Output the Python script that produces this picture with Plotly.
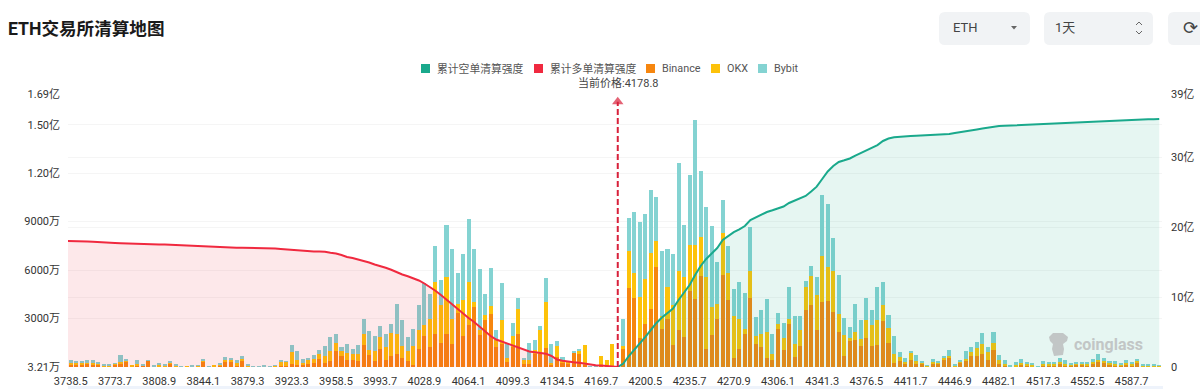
import plotly.graph_objects as go

# ---------- data (bars in 万, cumulative lines in 亿) ----------
tick_labels = ["3738.5","3773.7","3808.9","3844.1","3879.3","3923.3","3958.5","3993.7","4028.9","4064.1",
               "4099.3","4134.5","4169.7","4200.5","4235.7","4270.9","4306.1","4341.3","4376.5","4411.7",
               "4446.9","4482.1","4517.3","4552.5","4587.7"]
current_price = 4178.8

binance = [124,124,103,206,165,165,41,62,165,206,330,21,82,82,391,41,62,62,227,41,
           10,41,21,62,330,5,41,82,330,288,124,371,41,0,5,2,21,21,82,41,206,103,
           165,206,268,474,268,350,968,659,412,412,371,1380,721,371,1133,412,659,824,577,371,103,1112,1895,1236,2019,1483,2060,1401,3337,1936,2596,3708,1978,2925,3296,1236,1442,309,1236,2019,165,165,824,783,1195,144,618,268,206,906,824,103,10,5,103,41,41,
           0,
           1133,4903,4285,1772,2637,3564,6180,2348,2946,1339,2266,1833,4738,4182,5665,1092,1978,2946,5727,4120,
           577,1133,2019,4244,1401,1236,577,412,2348,1030,2678,618,1318,3502,3832,2266,4017,4079,3378,2142,
           659,1607,1648,1277,1772,1318,1360,2822,1483,247,350,
           165,433,247,227,62,165,206,412,618,62,288,412,680,700,783,433,1051,
           206,82,21,62,124,82,62,21,124,82,103,206,124,82,144,165,124,247,330,268,144,124,124,165,103,288,62,62,41,41]
okx = [144,124,144,41,82,82,41,41,41,124,82,62,124,41,21,21,62,62,62,62,
       5,21,21,21,62,21,41,62,103,124,103,124,41,62,5,2,21,82,227,288,700,350,
       82,206,247,350,412,618,536,330,474,412,453,639,309,597,700,824,1442,1195,700,618,1174,1154,721,1751,3234,2328,3543,1586,536,2225,2657,309,330,268,453,412,1442,227,680,1586,288,247,206,1483,2802,103,659,103,165,21,144,1277,5,5,556,371,1360,
       0,
       165,2266,1524,2554,2822,3523,1648,783,1998,2472,3708,3729,2822,3378,2410,4511,1730,927,2575,1730,
       2554,1854,350,1730,494,783,1586,412,330,742,288,824,948,1483,1792,2204,2884,2142,2596,1112,
       1298,185,494,474,1112,1257,1566,1030,948,577,268,
       124,453,103,62,41,124,82,124,62,41,62,103,247,474,639,494,453,
       247,124,41,62,124,82,82,21,62,103,62,82,82,82,82,82,82,82,124,103,82,82,41,82,103,82,21,41,41,62]
bybit = [144,144,144,206,206,41,103,103,41,433,103,0,227,21,21,21,144,41,41,62,
         2,0,82,21,62,21,0,103,165,144,206,185,82,2,2,62,21,21,144,2,453,556,
         227,165,206,206,597,886,556,247,556,309,556,948,1215,948,721,783,536,1895,1648,865,1051,1545,2616,1504,2266,1586,3214,4347,1957,2843,3935,3275,3770,1298,2390,618,2328,927,824,659,103,1071,618,247,1545,1195,330,247,0,21,124,0,2,2,0,0,0,
         0,
         1669,2060,3811,4635,4017,3852,2719,4058,2348,3214,6633,3255,4326,7725,4038,4305,5047,2657,2019,1627,
         1710,2266,2184,2719,1195,1483,2039,1236,659,968,2019,1689,865,371,639,1133,3729,3893,2039,2431,
         1092,659,1730,1133,1380,968,2019,1421,783,1071,309,
         288,103,371,82,10,185,82,144,350,103,41,453,309,350,659,309,680,
         288,247,10,165,227,165,62,21,185,144,124,288,247,103,41,82,82,165,371,185,124,144,82,206,124,124,62,82,62,10]

long_liq = [18.00,17.97,17.95,17.92,17.88,17.82,17.80,17.77,17.72,17.69,17.65,17.62,17.60,17.58,17.56,17.54,17.51,17.49,17.45,17.43,
            17.41,17.38,17.35,17.30,17.27,17.25,17.22,17.18,17.13,17.09,17.05,17.04,17.03,17.02,17.00,16.99,16.97,16.92,16.85,16.78,16.68,16.62,
            16.57,16.54,16.50,16.49,16.46,16.31,16.21,16.00,15.71,15.57,15.39,15.21,14.93,14.64,14.43,14.17,13.89,13.50,13.21,12.97,12.69,12.36,11.93,11.43,10.89,10.29,9.61,8.93,8.29,7.64,7.00,6.43,5.79,5.07,4.43,3.93,3.64,3.43,3.07,2.79,2.57,2.21,2.10,2.03,1.90,1.57,1.07,0.89,0.74,0.69,0.61,0.50,0.31,0.24,0.23,0.19,0.11,0.01]
short_liq = [0,0.50,1.57,2.43,3.29,4.29,5.29,6.29,7.07,7.71,8.36,9.57,10.71,11.71,13.14,14.43,15.43,16.21,17.00,18.14,18.71,
             19.26,19.66,20.14,21.00,21.39,21.86,22.14,22.39,22.64,22.93,23.43,23.79,24.07,24.43,25.07,25.76,26.86,27.93,28.71,29.29,
             29.53,29.79,30.21,30.57,30.93,31.29,31.71,32.29,32.64,32.81,32.90,
             32.96,33.00,33.04,33.07,33.11,33.17,33.20,33.24,33.29,33.43,33.53,33.64,33.76,33.93,34.07,34.21,34.36,34.43,34.46,34.50,34.53,34.56,34.60,34.63,34.66,34.70,34.73,34.77,34.80,34.84,34.87,34.90,34.94,34.97,35.00,35.05,35.10,35.15,35.20,35.25,35.30,35.36,35.37,35.39,35.40,35.41,35.43]

left_ticks = [3.21, 3000, 6000, 9000, 12000, 15000, 16900]
left_text = ["3.21万","3000万","6000万","9000万","1.20亿","1.50亿","1.69亿"]
right_ticks = [0, 10, 20, 30, 39]
right_text = ["0","10亿","20亿","30亿","39亿"]
legend_names = ["累计空单清算强度", "累计多单清算强度", "Binance", "OKX", "Bybit"]

assert len(binance) == len(okx) == len(bybit) == 198, (len(binance), len(okx), len(bybit))
assert len(long_liq) == 100 and len(short_liq) == 99, (len(long_liq), len(short_liq))

x = list(range(len(binance)))
PRICE_I = len(long_liq) - 1
FONT = "Roboto, 'Noto Sans CJK SC', sans-serif"

# ---------- styles ----------
C_SHORT, C_LONG = "#1aa98c", "#f0293f"
C_BIN, C_OKX, C_BYB = "#f6860f", "#fdc20a", "#84d3d2"

L, R, T, B = 68, 1162, 94, 367
px = lambda v: (v - L) / (R - L)
py = lambda v: (B - v) / (B - T)

fig = go.Figure()
for name, vals, col in [("Binance", binance, C_BIN), ("OKX", okx, C_OKX), ("Bybit", bybit, C_BYB)]:
    fig.add_bar(x=x, y=vals, name=name, marker=dict(color=col, line_width=0))

# the long-side area runs out to the left edge of the axis
fig.add_scatter(x=[-0.5] + x[:len(long_liq)], y=long_liq[:1] + long_liq, yaxis="y2", mode="lines", name=legend_names[1],
                line=dict(color=C_LONG, width=2), fill="tozeroy", fillcolor="rgba(240,41,63,0.11)")
fig.add_scatter(x=x[PRICE_I:], y=short_liq, yaxis="y2", mode="lines", name=legend_names[0],
                line=dict(color=C_SHORT, width=2), fill="tozeroy", fillcolor="rgba(26,169,140,0.11)")
fig.add_scatter(x=[PRICE_I, PRICE_I], y=[0, 37.9], yaxis="y2", mode="lines+markers", hoverinfo="skip",
                line=dict(color="#d8213b", width=2, dash="6px,3px"),
                marker=dict(symbol=["circle", "triangle-up"], size=[0, 10], color="#d8213b", line_width=0))

shapes = []
def rrect(x0, y0, x1, y1, r=6, fill="#f1f3f5"):
    a, b, c, d = px(x0), py(y0), px(x1), py(y1)
    rx, ry = r / (R - L), r / (B - T)
    path = (f"M{a+rx},{b} L{c-rx},{b} Q{c},{b} {c},{b-ry} L{c},{d+ry} Q{c},{d} {c-rx},{d} "
            f"L{a+rx},{d} Q{a},{d} {a},{d+ry} L{a},{b-ry} Q{a},{b} {a+rx},{b} Z")
    shapes.append(dict(type="path", xref="paper", yref="paper", path=path, fillcolor=fill, line_width=0, layer="below"))

def poly(pts, fill=None, line=None):
    path = "M" + " L".join(f"{px(a)},{py(b)}" for a, b in pts)
    if fill:
        path += " Z"
    shapes.append(dict(type="path", xref="paper", yref="paper", path=path, fillcolor=fill or "rgba(0,0,0,0)",
                       line=dict(color=line or "rgba(0,0,0,0)", width=1 if line else 0), layer="above"))

rrect(939, 12, 1030, 45)
rrect(1044, 12, 1153, 45)
rrect(1168, 12, 1206, 45)
shapes.append(dict(type="rect", xref="paper", yref="paper", x0=px(68), x1=px(1163), y0=py(386), y1=py(389),
                   fillcolor="#eef3fb", line_width=0, layer="below"))
poly([(1011, 26), (1017, 26), (1014, 29.5)], fill="#666666")
poly([(1136, 25), (1139, 22), (1142, 25)], line="#666666")
poly([(1136, 31), (1139, 34), (1142, 31)], line="#666666")
# coinglass watermark glyph
poly([(1049, 337), (1053, 333), (1063, 333), (1068, 337), (1067, 341), (1063, 344), (1064, 349), (1063, 355),
      (1054, 356), (1052, 349), (1053, 344), (1050, 341)], fill="#c2c6c6")

def note(text, x_, y_, size=11, color="#444444", anchor="left", **kw):
    return dict(text=text, x=px(x_), y=py(y_), xref="paper", yref="paper", showarrow=False, xanchor=anchor,
                yanchor="middle", font=dict(size=size, color=color, family=FONT, **kw))

annotations = [
    note("<b>ETH交易所清算地图</b>", 6, 29, size=17.6, color="#1a1a1a"),
    note("ETH", 951, 28, size=13, color="#444444"),
    note("1天", 1053, 28, size=13, color="#444444"),
    note("⟳", 1190, 28, size=18, color="#444444", anchor="center"),
    note("当前价格:4178.8", 618, 83, size=11, color="#444444", anchor="center"),
    note("<b>coinglass</b>", 1072, 344, size=16, color="#c2c6c6"),
]

# legend row (square swatch + label)
for name, col, sq in zip(legend_names, [C_SHORT, C_LONG, C_BIN, C_OKX, C_BYB], [421, 534, 646, 711, 758]):
    poly([(sq, 64), (sq + 9, 64), (sq + 9, 73), (sq, 73)], fill=col)
    annotations.append(note(name, sq + 14, 68.5, size=10.8, color="#555555"))

fig.update_layout(
    width=1200, height=389, margin=dict(l=L, r=1200 - R, t=T, b=389 - B), autosize=False,
    paper_bgcolor="white", plot_bgcolor="white",
    barmode="stack", bargap=0.27,
    font=dict(family=FONT, size=11, color="#333333"),
    showlegend=False,
    xaxis=dict(range=[-0.5, 197.5], tickmode="array", tickvals=x[::8], ticktext=tick_labels,
               showgrid=False, zeroline=False, showline=False, ticks="", tickangle=0, automargin=False,
               ticklabelstandoff=6, tickfont=dict(size=11, color="#333333")),
    yaxis=dict(range=[3.21, 16900], tickmode="array", tickvals=left_ticks, ticktext=left_text, automargin=False,
               gridcolor="#f5f5f5", zeroline=False, showline=False, ticks="", ticklabelstandoff=7,
               tickfont=dict(size=11, color="#333333")),
    yaxis2=dict(range=[0, 39], overlaying="y", side="right", tickmode="array", tickvals=right_ticks, ticktext=right_text,
                automargin=False, gridcolor="#f5f5f5", zeroline=False, showline=False, ticks="", ticklabelstandoff=8,
                tickfont=dict(size=11, color="#333333")),
    shapes=shapes, annotations=annotations,
)

fig.write_html("out.html", config={"displayModeBar": False},
               post_script="document.body.style.margin='0';document.body.style.overflow='hidden';")
